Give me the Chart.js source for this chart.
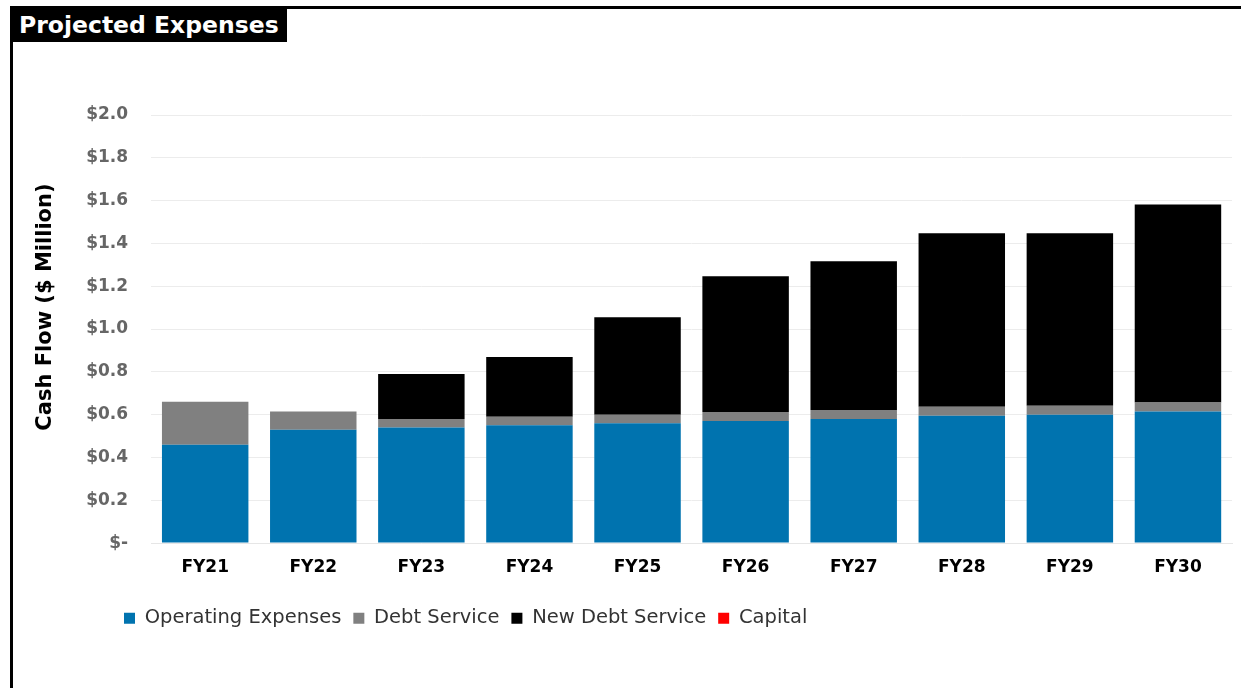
<!DOCTYPE html>
<html>
<head>
<meta charset="utf-8">
<script src="https://cdn.jsdelivr.net/npm/chart.js@4.4.1/dist/chart.umd.min.js"></script>
<style>
  html, body { margin: 0; padding: 0; background: #fff; overflow: hidden; }
  #frame {
    position: absolute; left: 10px; top: 6px; width: 1300px; height: 800px;
    border-left: 3px solid #000; border-top: 3px solid #000;
  }
  #title {
    position: absolute; left: 10px; top: 6px; width: 277px; height: 36px;
    background: #000; color: #fff;
    font: bold 23.5px "DejaVu Sans", sans-serif; line-height: 38px;
    padding-left: 9px; box-sizing: border-box; white-space: nowrap;
  }
  #chart { position: absolute; left: 0; top: 0; }
</style>
</head>
<body>
<div id="frame"></div>
<canvas id="chart" width="1241" height="688"></canvas>
<div id="title">Projected Expenses</div>
<script>
// Data ($ million)
const categories = ['FY21', 'FY22', 'FY23', 'FY24', 'FY25', 'FY26', 'FY27', 'FY28', 'FY29', 'FY30'];
const operatingExpenses = [0.46, 0.53, 0.54, 0.55, 0.56, 0.57, 0.58, 0.595, 0.60, 0.615];
const debtService = [0.20, 0.085, 0.04, 0.04, 0.04, 0.042, 0.042, 0.042, 0.042, 0.042];
const newDebtService = [0, 0, 0.21, 0.28, 0.455, 0.635, 0.695, 0.81, 0.805, 0.925];
const capital = [0, 0, 0, 0, 0, 0, 0, 0, 0, 0];

const FONT = '"DejaVu Sans", Verdana, sans-serif';

// nudges the legend and the y title to where the original has them
const layoutTweaks = {
  id: 'layoutTweaks',
  afterLayout(chart) {
    chart.legend.left += 79;
    chart.legend.right += 79;
    const y = chart.scales.y;
    if (!y._titlePatched) {
      const drawTitle = y.drawTitle.bind(y);
      y.drawTitle = function () {
        chart.ctx.save();
        chart.ctx.translate(0, -22);
        drawTitle();
        chart.ctx.restore();
      };
      y._titlePatched = true;
    }
  }
};

const ctx = document.getElementById('chart').getContext('2d');
new Chart(ctx, {
  type: 'bar',
  data: {
    labels: categories,
    datasets: [
      { label: 'Operating Expenses', data: operatingExpenses, backgroundColor: '#0073AF' },
      { label: 'Debt Service', data: debtService, backgroundColor: '#808080' },
      { label: 'New Debt Service', data: newDebtService, backgroundColor: '#000000' },
      { label: 'Capital', data: capital, backgroundColor: '#FF0000' }
    ]
  },
  plugins: [layoutTweaks],
  options: {
    responsive: false,
    animation: false,
    categoryPercentage: 0.8,
    barPercentage: 1.0,
    layout: { padding: { left: 33, right: 9, top: 115, bottom: 50 } },
    plugins: {
      tooltip: { enabled: false },
      legend: {
        position: 'bottom',
        align: 'start',
        labels: {
          boxWidth: 11,
          boxHeight: 11,
          padding: 12,
          color: '#333',
          font: { family: FONT, size: 19.5 }
        }
      }
    },
    scales: {
      x: {
        stacked: true,
        grid: { display: false },
        border: { display: true, color: '#e6e6e6' },
        ticks: { color: '#000', padding: 6, font: { family: FONT, size: 17, weight: 'bold' } },
        afterFit(scale) { scale.height += 13; }
      },
      y: {
        stacked: true,
        min: 0,
        max: 2.0,
        grid: { color: '#ececec', drawTicks: false },
        border: { display: false },
        ticks: {
          stepSize: 0.2,
          padding: 23,
          color: '#666',
          font: { family: FONT, size: 17, weight: 'bold' },
          callback: v => v === 0 ? '$-' : '$' + v.toFixed(1)
        },
        title: {
          display: true,
          text: 'Cash Flow ($ Million)',
          color: '#000',
          padding: { top: 0, bottom: 5 },
          font: { family: FONT, size: 21, weight: 'bold' }
        }
      }
    }
  }
});
</script>
</body>
</html>
